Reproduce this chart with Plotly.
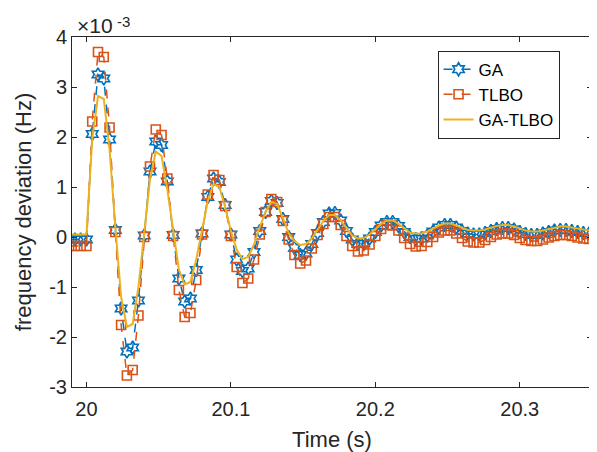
import plotly.graph_objects as go

# sample grid (s)
t_start = 19.988
t_step = 0.004

# frequency deviation values, in units of 1e-3 Hz
ga = [
    -0.05, -0.05, -0.05, -0.05,
    2.06, 3.25, 3.17, 1.95, 0.14, -1.43, -2.29, -2.21, -1.27, 0.03,
    1.31, 1.91, 1.84, 1.11, 0.04, -0.83, -1.29, -1.23, -0.66, 0.07,
    0.80, 1.17, 1.10, 0.64, 0.05, -0.45, -0.68, -0.63, -0.30, 0.12,
    0.50, 0.72, 0.68, 0.36, 0.00, -0.22, -0.36, -0.33, -0.14, 0.08,
    0.30, 0.47, 0.48, 0.33, 0.12, -0.05, -0.14, -0.13, -0.03, 0.10,
    0.23, 0.30, 0.30, 0.22, 0.10, 0.00, -0.04, -0.03, 0.03, 0.11,
    0.19, 0.24, 0.24, 0.19, 0.12, 0.07, 0.05, 0.05, 0.08, 0.12,
    0.16, 0.18, 0.18, 0.15, 0.10, 0.06, 0.04, 0.04, 0.07, 0.10,
    0.13, 0.14, 0.14, 0.12, 0.10, 0.08, 0.07, 0.08, 0.10, 0.12,
]
tlbo = [
    -0.18, -0.18, -0.18, -0.18,
    2.31, 3.70, 3.60, 2.19, 0.10, -1.76, -2.77, -2.66, -1.57, 0.00,
    1.41, 2.15, 2.04, 1.17, 0.02, -1.06, -1.60, -1.52, -0.86, 0.05,
    0.85, 1.24, 1.14, 0.62, 0.02, -0.60, -0.92, -0.83, -0.45, 0.05,
    0.50, 0.76, 0.70, 0.32, -0.05, -0.36, -0.53, -0.47, -0.23, 0.04,
    0.26, 0.40, 0.40, 0.24, 0.02, -0.18, -0.29, -0.27, -0.15, 0.02,
    0.16, 0.24, 0.23, 0.13, -0.02, -0.14, -0.19, -0.18, -0.10, 0.00,
    0.09, 0.13, 0.13, 0.07, -0.02, -0.09, -0.11, -0.11, -0.06, 0.00,
    0.05, 0.07, 0.07, 0.04, -0.02, -0.06, -0.08, -0.08, -0.05, -0.01,
    0.02, 0.04, 0.04, 0.02, -0.01, -0.03, -0.04, -0.04, -0.03, -0.02,
]
ga_tlbo = [
    0.05, 0.05, 0.05, 0.05,
    1.95, 2.82, 2.76, 1.75, 0.20, -1.20, -1.80, -1.74, -1.00, 0.10,
    1.15, 1.71, 1.62, 0.95, 0.10, -0.65, -0.95, -0.90, -0.45, 0.15,
    0.72, 1.06, 1.00, 0.60, 0.12, -0.25, -0.44, -0.40, -0.15, 0.20,
    0.50, 0.70, 0.66, 0.38, 0.08, -0.08, -0.16, -0.14, -0.03, 0.14,
    0.32, 0.44, 0.44, 0.33, 0.17, 0.03, -0.03, -0.02, 0.05, 0.15,
    0.26, 0.33, 0.33, 0.26, 0.17, 0.09, 0.07, 0.07, 0.11, 0.17,
    0.23, 0.27, 0.27, 0.23, 0.18, 0.14, 0.13, 0.13, 0.15, 0.19,
    0.22, 0.24, 0.24, 0.21, 0.17, 0.13, 0.11, 0.11, 0.13, 0.16,
    0.19, 0.21, 0.21, 0.19, 0.16, 0.14, 0.13, 0.13, 0.14, 0.15,
]

x_tickvals = [20, 20.1, 20.2, 20.3]
x_ticktext = ["20", "20.1", "20.2", "20.3"]
y_tickvals = [-3, -2, -1, 0, 1, 2, 3, 4]
y_ticktext = ["-3", "-2", "-1", "0", "1", "2", "3", "4"]

time = [round(t_start + t_step * i, 3) for i in range(len(ga))]

FONT = "Liberation Sans, Arial, Helvetica, sans-serif"
AX = "#262626"

fig = go.Figure()
fig.add_trace(go.Scatter(
    x=time, y=ga, name="GA", mode="lines+markers",
    line=dict(color="#0072BD", width=1.5, dash="dash"),
    marker=dict(symbol="hexagram-open", size=10, color="#0072BD",
                line=dict(width=1.6, color="#0072BD")),
))
fig.add_trace(go.Scatter(
    x=time, y=tlbo, name="TLBO", mode="lines+markers",
    line=dict(color="#D95319", width=1.5, dash="dash"),
    marker=dict(symbol="square-open", size=9, color="#D95319",
                line=dict(width=1.6, color="#D95319")),
))
fig.add_trace(go.Scatter(
    x=time, y=ga_tlbo, name="GA-TLBO", mode="lines",
    line=dict(color="#EDB120", width=2),
))

fig.update_layout(
    width=589, height=444,
    margin=dict(l=64, r=5, t=29, b=65),
    paper_bgcolor="white", plot_bgcolor="white",
    font=dict(family=FONT, color=AX, size=20),
    showlegend=True,
    legend=dict(
        x=0.703, y=0.961, xanchor="left", yanchor="top",
        bgcolor="white", bordercolor=AX, borderwidth=1,
        font=dict(size=17, color="black"),
        tracegroupgap=0, itemwidth=30,
    ),
    xaxis=dict(
        range=[19.99, 20.35], tickvals=x_tickvals, ticktext=x_ticktext,
        ticks="inside", ticklen=5, tickcolor=AX, tickwidth=1,
        ticklabelstandoff=4,
        showline=True, linecolor=AX, linewidth=1, mirror="ticks",
        showgrid=False, zeroline=False,
        tickfont=dict(size=20, color=AX),
        title=dict(text="Time (s)", font=dict(size=22, color=AX), standoff=12),
    ),
    yaxis=dict(
        range=[-3, 4], tickvals=y_tickvals, ticktext=y_ticktext,
        ticks="inside", ticklen=5, tickcolor=AX, tickwidth=1,
        showline=True, linecolor=AX, linewidth=1, mirror="ticks",
        showgrid=False, zeroline=False,
        tickfont=dict(size=20, color=AX),
        title=dict(text="frequency deviation (Hz)", font=dict(size=22, color=AX), standoff=11),
    ),
    annotations=[
        dict(text="×10", xref="paper", yref="paper", x=0.006, y=1.0,
             xanchor="left", yanchor="bottom", yshift=-2,
             showarrow=False, font=dict(size=21, color=AX)),
        dict(text="-3", xref="paper", yref="paper", x=0.083, y=1.0,
             xanchor="left", yanchor="bottom", yshift=5,
             showarrow=False, font=dict(size=15, color=AX)),
    ],
)

fig.write_html("out.html")
